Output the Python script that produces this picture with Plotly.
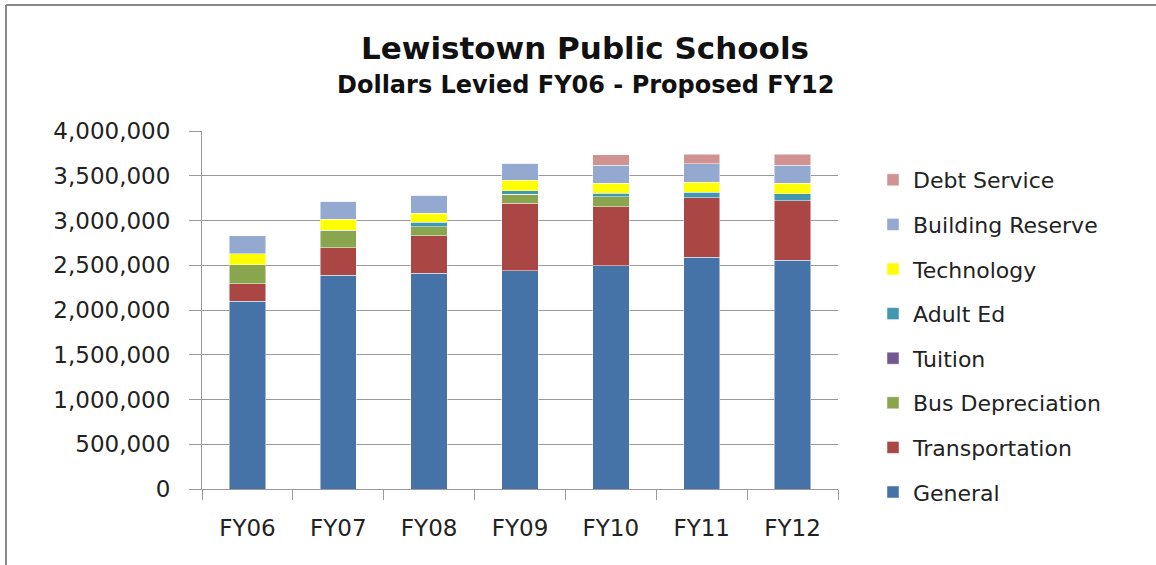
import plotly.graph_objects as go

years = ["FY06", "FY07", "FY08", "FY09", "FY10", "FY11", "FY12"]
general = [2100000, 2391000, 2413000, 2439000, 2495000, 2592000, 2555000]
transportation = [194000, 302000, 417000, 753000, 659000, 663000, 663000]
bus_depreciation = [209000, 190000, 101000, 101000, 112000, 0, 5000]
tuition = [0, 0, 0, 0, 0, 0, 0]
adult_ed = [0, 10000, 52000, 37000, 41000, 63000, 75000]
technology = [126000, 123000, 97000, 122000, 112000, 112000, 120000]
building_reserve = [201000, 201000, 201000, 190000, 201000, 205000, 198000]
debt_service = [0, 0, 0, 0, 112000, 108000, 126000]

series = [
    ("General", general, "#4572A7"),
    ("Transportation", transportation, "#AA4643"),
    ("Bus Depreciation", bus_depreciation, "#89A54E"),
    ("Tuition", tuition, "#71588F"),
    ("Adult Ed", adult_ed, "#4198AF"),
    ("Technology", technology, "#FFFF00"),
    ("Building Reserve", building_reserve, "#93A9CF"),
    ("Debt Service", debt_service, "#D19392"),
]
y_ticks = [0, 500000, 1000000, 1500000, 2000000, 2500000, 3000000, 3500000, 4000000]

W, H = 1156, 565
L, R, T, B = 202, 318, 131, 76
pw, ph = W - L - R, H - T - B

def px_x(x):
    return (x - L) / pw

def px_y(y):
    return (H - B - y) / ph

fig = go.Figure()
n = len(series)
for i, (name, vals, col) in enumerate(series):
    fig.add_trace(go.Bar(
        x=years, y=vals, name=name, legendgroup=name, legendrank=n - i,
        marker=dict(color=col, line=dict(color="rgba(255,255,255,0.6)", width=0.8)),
    ))

fig.update_layout(
    width=W, height=H, barmode="stack", bargap=0.6,
    margin=dict(l=L, r=R, t=T, b=B, autoexpand=False),
    paper_bgcolor="white", plot_bgcolor="white",
    font=dict(family="DejaVu Sans", size=20, color="#222222"),
    showlegend=True,
    legend=dict(
        traceorder="grouped", tracegroupgap=13, maxheight=520,
        x=px_x(873), y=px_y(159), xanchor="left", yanchor="top",
        font=dict(family="DejaVu Sans", size=22, color="#222222"),
        bgcolor="rgba(0,0,0,0)",
    ),
    xaxis=dict(
        showline=True, linecolor="#999999", linewidth=1,
        ticks="outside", ticklen=10, tickcolor="#999999",
        tickson="boundaries", tickfont=dict(size=23), ticklabelstandoff=18,
    ),
    yaxis=dict(
        range=[0, 4000000], tickvals=y_ticks, tickformat=",d",
        showline=True, linecolor="#999999", linewidth=1,
        showgrid=True, gridcolor="#999999", gridwidth=1,
        ticks="outside", ticklen=12, tickcolor="#999999",
        tickfont=dict(size=23), ticklabelstandoff=14, zeroline=False,
    ),
    annotations=[
        dict(text="<b>Lewistown Public Schools</b>", x=px_x(585), y=px_y(48),
             xref="paper", yref="paper", showarrow=False, xanchor="center", yanchor="middle",
             font=dict(family="DejaVu Sans", size=31, color="#111111")),
        dict(text="<b>Dollars Levied FY06 - Proposed FY12</b>", x=px_x(585), y=px_y(85),
             xref="paper", yref="paper", showarrow=False, xanchor="center", yanchor="middle",
             font=dict(family="DejaVu Sans", size=24, color="#111111")),
    ],
    shapes=[
        dict(type="line", xref="paper", yref="paper", x0=px_x(6), x1=px_x(W), y0=px_y(5), y1=px_y(5),
             line=dict(color="#888888", width=2)),
        dict(type="line", xref="paper", yref="paper", x0=px_x(6), x1=px_x(6), y0=px_y(5), y1=px_y(H),
             line=dict(color="#888888", width=2)),
    ],
)

fig.write_html("out.html", config={"displayModeBar": False},
               post_script="document.body.style.margin='0';")
